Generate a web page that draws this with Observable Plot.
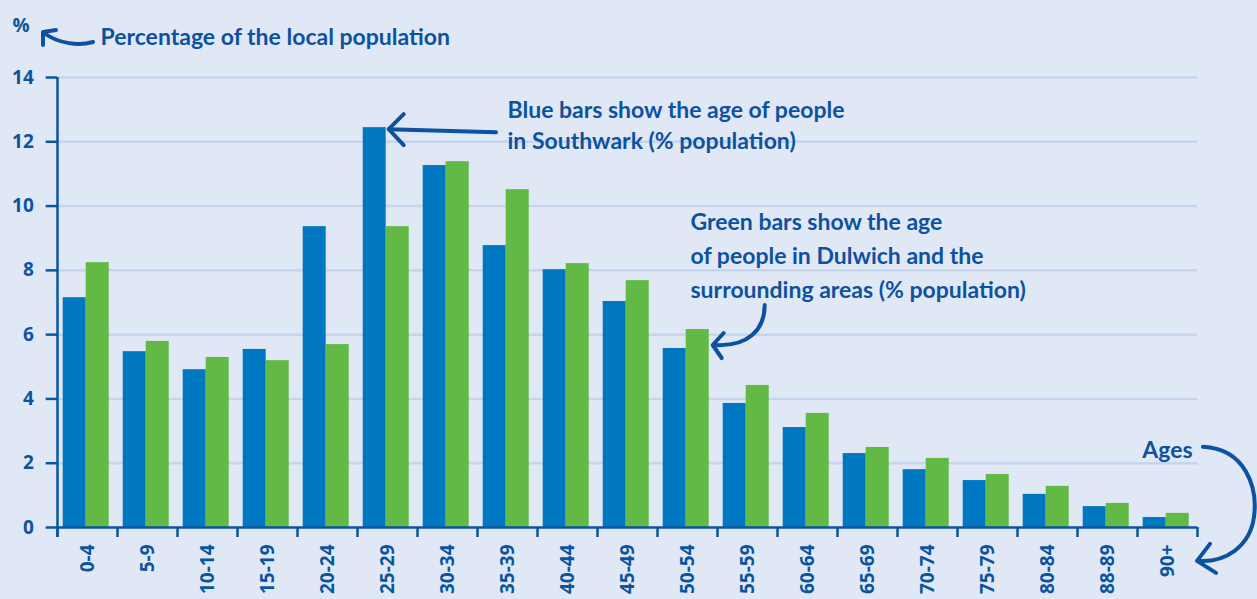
<!DOCTYPE html>
<html>
<head>
<meta charset="utf-8">
<script src="https://cdn.jsdelivr.net/npm/d3@7"></script>
<script src="https://cdn.jsdelivr.net/npm/@observablehq/plot@0.6"></script>
<style>
  html, body { margin: 0; padding: 0; background: #e1e8f5; overflow: hidden; }
</style>
</head>
<body>
<div id="chart"></div>
<script>
const ages = ["0-4","5-9","10-14","15-19","20-24","25-29","30-34","35-39","40-44","45-49","50-54","55-59","60-64","65-69","70-74","75-79","80-84","88-89","90+"];
const southwark = [7.15,5.47,4.91,5.54,9.36,12.44,11.26,8.77,8.02,7.03,5.57,3.86,3.11,2.30,1.80,1.46,1.03,0.65,0.31];
const dulwich = [8.24,5.79,5.29,5.19,5.69,9.36,11.38,10.51,8.21,7.68,6.16,4.42,3.55,2.49,2.15,1.65,1.28,0.75,0.44];
const yTicks = [0,2,4,6,8,10,12,14];
const gridValues = [2,4,6,8,10,12,14];

const blueData = ages.map((a, i) => ({age: a, value: southwark[i]}));
const greenData = ages.map((a, i) => ({age: a, value: dulwich[i]}));

const axisColor = "#0b559f";
const noteColor = "#0d52a0";
const blue = "#0077c1";
const green = "#62b946";
const labelFont = "'Open Sans', sans-serif";
const noteFont = "Lato, sans-serif";

const W = 1257, H = 599;
const mL = 57.3, mR = 59.7;
const bw = (W - mL - mR) / ages.length;

const plot = Plot.plot({
  width: W,
  height: H,
  marginLeft: mL,
  marginRight: mR,
  marginTop: 77,
  marginBottom: 72,
  style: {background: "#e1e8f5", fontFamily: labelFont, color: axisColor, overflow: "visible"},
  x: {domain: ages, padding: 0, label: null, axis: null},
  y: {domain: [0, 14], label: null, axis: null},
  marks: [
    Plot.ruleY(gridValues, {stroke: "#c5d5ee", strokeWidth: 2.5}),
    Plot.barY(blueData, {x: "age", y: "value", fill: blue, insetLeft: bw*0.095, insetRight: bw - bw*0.095 - 23}),
    Plot.barY(greenData, {x: "age", y: "value", fill: green, insetLeft: bw*0.095 + 23, insetRight: bw*0.138}),
    Plot.ruleY([0], {stroke: axisColor, strokeWidth: 2.5}),
    // y axis line
    Plot.ruleX([ages[0]], {dx: -bw/2, y1: 14, y2: 0, stroke: axisColor, strokeWidth: 2.5, insetBottom: -10}),
    // x ticks between age groups
    Plot.ruleX(ages, {x: d => d, dx: -bw/2, y1: 0, y2: 0, insetBottom: -10, stroke: axisColor, strokeWidth: 2.5}),
    Plot.ruleX([ages[ages.length-1]], {dx: bw/2, y1: 0, y2: 0, insetBottom: -10, stroke: axisColor, strokeWidth: 2.5}),
    // y ticks
    Plot.tickY(yTicks, {y: d => d, x: () => ages[0], dx: -11.3, insetRight: bw - 11.3, stroke: axisColor, strokeWidth: 2.5}),
    // y tick labels
    Plot.text(yTicks, {y: d => d, text: d => String(d), frameAnchor: "left", dx: -24, textAnchor: "end", fontSize: 19, fontWeight: "bold", fill: axisColor, fontFamily: labelFont}),
    // x tick labels
    Plot.text(ages, {x: d => d, y: () => 0, dy: 17, rotate: -90, text: d => d, textAnchor: "end", fontSize: 19, fontWeight: "bold", fill: axisColor, fontFamily: labelFont}),
    // Annotations
    Plot.text(["%"], {x: () => ages[0], y: () => 15.6, dx: -75, text: d => d, fontSize: 19, fontWeight: "bold", fill: axisColor, textAnchor: "start", fontFamily: labelFont}),
    Plot.text(["Percentage of the local population"], {x: () => ages[0], y: () => 15.25, dx: 13, text: d => d, fontSize: 23, fontWeight: "bold", fill: noteColor, textAnchor: "start", fontFamily: noteFont}),
    Plot.text(["Blue bars show the age of people\nin Southwark (% population)"], {x: () => "35-39", y: () => 13.42, dx: 0, text: d => d, fontSize: 23, fontWeight: "bold", fill: noteColor, textAnchor: "start", lineAnchor: "top", lineHeight: 1.34, fontFamily: noteFont}),
    Plot.text(["Green bars show the age\nof people in Dulwich and the\nsurrounding areas (% population)"], {x: () => "50-54", y: () => 10.02, dx: 3, text: d => d, fontSize: 23, fontWeight: "bold", fill: noteColor, textAnchor: "start", lineAnchor: "top", lineHeight: 1.48, fontFamily: noteFont}),
    Plot.text(["Ages"], {x: () => "90+", y: () => 2.4, dx: 0, text: d => d, fontSize: 23, fontWeight: "bold", fill: noteColor, textAnchor: "middle", fontFamily: noteFont})
  ]
});

// Hand-drawn style arrows, anchored on the chart scales
const xs = plot.scale("x"), ys = plot.scale("y");
const svg = d3.select(plot);
const g = svg.append("g").attr("fill", "none").attr("stroke", noteColor).attr("stroke-width", 4)
  .attr("stroke-linecap", "round").attr("stroke-linejoin", "round");

// title arrow
const x0 = xs.apply(ages[0]);
const yTop = ys.apply(14);
g.append("path").attr("d", `M${x0+36},${yTop-35} C${x0+22},${yTop-31} ${x0+2},${yTop-33} ${x0-13},${yTop-44}`);
g.append("path").attr("d", `M${x0-14},${yTop-32} L${x0-14},${yTop-45} L${x0-1},${yTop-47}`);

// blue arrow -> top of 25-29 blue bar
const bx = xs.apply("25-29") + bw*0.095 + 23 + 3;
const by = ys.apply(southwark[5]) + 2;
g.append("path").attr("d", `M${xs.apply("35-39") + 19},${by + 3} L${bx},${by}`);
g.append("path").attr("d", `M${bx+15},${by-15} L${bx},${by} L${bx+15},${by+16}`);

// green arrow -> top of 50-54 green bar
const gx = xs.apply("50-54") + bw*0.095 + 46 + 4;
const gy = ys.apply(dulwich[10]) + 16;
g.append("path").attr("d", `M${gx+52},${gy-40} C${gx+52},${gy-16} ${gx+36},${gy+2} ${gx+2},${gy}`);
g.append("path").attr("d", `M${gx+11},${gy-12} L${gx},${gy} L${gx+9},${gy+13}`);

// ages arrow -> x labels
const ax = xs.apply("90+") + bw;
const ay = ys.apply(2.4);
g.append("path").attr("d", `M${ax+6},${ay-3} C${ax+48},${ay-1} ${ax+61},${ay+37} ${ax+57},${ay+67} C${ax+53},${ay+97} ${ax+28},${ay+113} ${ax+1},${ay+111}`);
g.append("path").attr("d", `M${ax+13},${ay+94} L${ax},${ay+111} L${ax+19},${ay+123}`);

document.getElementById("chart").appendChild(plot);
</script>
</body>
</html>
